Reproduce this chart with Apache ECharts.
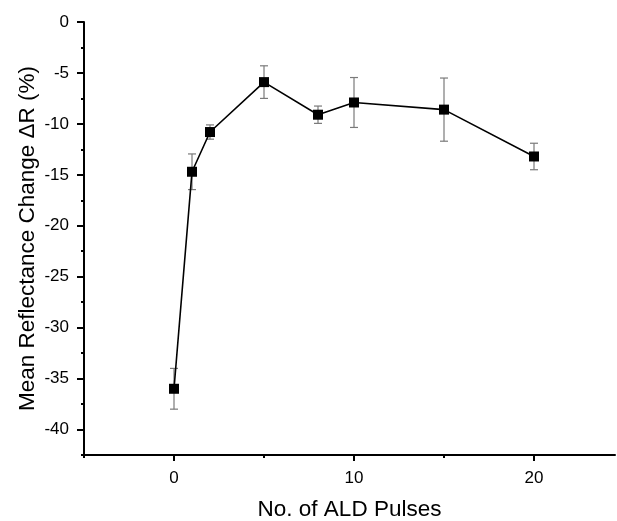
<!DOCTYPE html>
<html>
<head>
<meta charset="utf-8">
<script src="https://cdn.jsdelivr.net/npm/echarts@6/dist/echarts.min.js"></script>
<style>html,body{margin:0;padding:0;background:#fff}#c{width:617px;height:521px}</style>
</head>
<body>
<div id="c"></div>
<script>
var pulses = [0, 1, 2, 5, 8, 10, 15, 20];
var meanChange = [-36.0, -14.7, -10.8, -5.9, -9.1, -7.9, -8.6, -13.2];
var errors = [2.0, 1.75, 0.7, 1.6, 0.85, 2.45, 3.1, 1.3];
var xMajorTicks = [0, 10, 20];
var xMinorTicks = [-5, 5, 15];
var yMajorTicks = [0, -5, -10, -15, -20, -25, -30, -35, -40];
var yMinorTicks = [-2.5, -7.5, -12.5, -17.5, -22.5, -27.5, -32.5, -37.5, -42.5];

var FONT = '"Liberation Sans", Arial, sans-serif';
var chart = echarts.init(document.getElementById('c'));
var lineData = pulses.map(function (p, i) { return [p, meanChange[i]]; });
var errData = pulses.map(function (p, i) { return [p, meanChange[i] - errors[i], meanChange[i] + errors[i]]; });

chart.setOption({
  animation: false,
  backgroundColor: '#fff',
  grid: { left: 84, top: 22, right: 2, bottom: 66, containLabel: false, outerBoundsMode: 'none' },
  xAxis: [{
    type: 'value', min: -5, max: 24.5,
    name: 'No. of ALD Pulses', nameLocation: 'middle', nameGap: 43, nameMoveOverlap: false,
    nameTextStyle: { fontFamily: FONT, fontSize: 22.5, color: '#000' },
    axisLine: { show: true, onZero: false, lineStyle: { color: '#000', width: 2 } },
    axisTick: { show: true, length: 6, lineStyle: { color: '#000', width: 2 }, customValues: xMajorTicks },
    axisLabel: { show: true, margin: 15, fontFamily: FONT, fontSize: 17, color: '#000', customValues: xMajorTicks },
    splitLine: { show: false }
  }, {
    type: 'value', min: -5, max: 24.5, position: 'bottom',
    axisLine: { show: false, onZero: false },
    axisTick: { show: true, length: 3, lineStyle: { color: '#000', width: 2 }, customValues: xMinorTicks },
    axisLabel: { show: false },
    splitLine: { show: false }
  }],
  yAxis: [{
    type: 'value', min: -42.5, max: 0,
    name: 'Mean Reflectance Change \u0394R (%)', nameLocation: 'middle', nameGap: 45, nameRotate: 90, nameMoveOverlap: false,
    nameTextStyle: { fontFamily: FONT, fontSize: 22.5, color: '#000' },
    axisLine: { show: true, onZero: false, lineStyle: { color: '#000', width: 2 } },
    axisTick: { show: true, length: 7, lineStyle: { color: '#000', width: 2 }, customValues: yMajorTicks },
    axisLabel: { show: true, margin: 15, fontFamily: FONT, fontSize: 17, color: '#000', customValues: yMajorTicks },
    splitLine: { show: false }
  }, {
    type: 'value', min: -42.5, max: 0, position: 'left',
    axisLine: { show: false, onZero: false },
    axisTick: { show: true, length: 3, lineStyle: { color: '#000', width: 2 }, customValues: yMinorTicks },
    axisLabel: { show: false },
    splitLine: { show: false }
  }],
  series: [{
    type: 'custom',
    xAxisIndex: 0, yAxisIndex: 0,
    z: 1,
    data: errData,
    renderItem: function (params, api) {
      var x = api.value(0);
      var lo = api.coord([x, api.value(1)]);
      var hi = api.coord([x, api.value(2)]);
      var hw = 4;
      var st = { stroke: '#7a7a7a', lineWidth: 1.2 };
      return {
        type: 'group',
        children: [
          { type: 'line', shape: { x1: lo[0], y1: lo[1], x2: hi[0], y2: hi[1] }, style: st },
          { type: 'line', shape: { x1: lo[0] - hw, y1: lo[1], x2: lo[0] + hw, y2: lo[1] }, style: st },
          { type: 'line', shape: { x1: hi[0] - hw, y1: hi[1], x2: hi[0] + hw, y2: hi[1] }, style: st }
        ]
      };
    }
  }, {
    type: 'line',
    xAxisIndex: 0, yAxisIndex: 0,
    z: 3,
    data: lineData,
    symbol: 'rect', symbolSize: 10,
    itemStyle: { color: '#000' },
    lineStyle: { color: '#000', width: 1.6 }
  }]
});
</script>
</body>
</html>
